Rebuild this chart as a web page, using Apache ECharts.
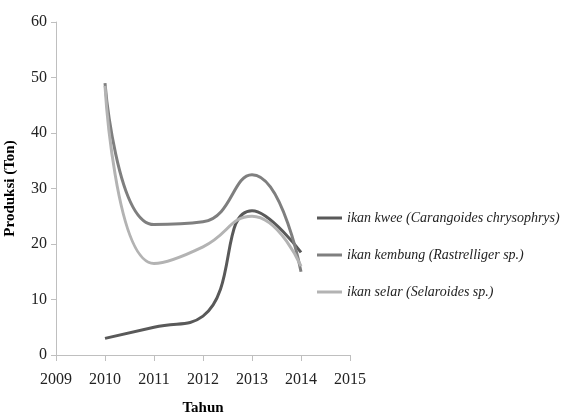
<!DOCTYPE html>
<html>
<head>
<meta charset="utf-8">
<script src="https://cdn.jsdelivr.net/npm/echarts@6/dist/echarts.min.js"></script>
<style>
  html, body { margin: 0; padding: 0; background: #fff; }
  #chart { width: 564px; height: 417px; }
</style>
</head>
<body>
<div id="chart"></div>
<script>
  // tahun & produksi (ton)
  let years = [2010, 2011, 2012, 2013, 2014];
  let kwee = [3, 5, 7, 26, 18.5];
  let kembung = [49, 23.5, 24, 32.5, 15];
  let selar = [48.5, 16.5, 19.5, 25, 16];
  let names = [
    'ikan kwee (Carangoides chrysophrys)',
    'ikan kembung (Rastrelliger sp.)',
    'ikan selar (Selaroides sp.)'
  ];
  let myColor = ['#595959', '#7f7f7f', '#b3b3b3'];

  function pairs(vals) {
    return years.map(function (y, i) { return [y, vals[i]]; });
  }

  let serif = 'Liberation Serif';
  let chart = echarts.init(document.getElementById('chart'));
  let option = {
    animation: false,
    color: myColor,
    grid: { left: 56, right: 214, top: 22, bottom: 62, outerBoundsMode: 'none', containLabel: false },
    legend: {
      orient: 'vertical',
      left: 312,
      top: 206,
      icon: 'rect',
      itemWidth: 25,
      itemHeight: 3,
      itemGap: 23,
      data: names,
      textStyle: { fontFamily: serif, fontStyle: 'italic', fontSize: 14, color: '#222' }
    },
    xAxis: {
      type: 'value',
      min: 2009, max: 2015, interval: 1,
      name: 'Tahun',
      nameLocation: 'middle',
      nameGap: 46,
      nameTextStyle: { fontFamily: serif, fontWeight: 'bold', fontSize: 15, color: '#000' },
      splitLine: { show: false },
      axisLine: { lineStyle: { color: '#bfbfbf' } },
      axisTick: { length: 6, lineStyle: { color: '#bfbfbf' } },
      axisLabel: {
        fontFamily: serif, fontSize: 16, color: '#222', margin: 17,
        formatter: function (v) { return String(v); }
      }
    },
    yAxis: {
      type: 'value',
      min: 0, max: 60, interval: 10,
      name: 'Produksi (Ton)',
      nameLocation: 'middle',
      nameGap: 38,
      nameTextStyle: { fontFamily: serif, fontWeight: 'bold', fontSize: 15, color: '#000' },
      splitLine: { show: false },
      axisLine: { show: true, lineStyle: { color: '#bfbfbf' } },
      axisTick: { show: true, length: 5, lineStyle: { color: '#bfbfbf' } },
      axisLabel: { fontFamily: serif, fontSize: 16, color: '#222', margin: 9 }
    },
    series: [kwee, kembung, selar].map(function (vals, i) {
      return {
        name: names[i],
        type: 'line',
        smooth: 0.5,
        symbol: 'none',
        lineStyle: { width: 3 },
        data: pairs(vals)
      };
    })
  };
  chart.setOption(option);
</script>
</body>
</html>
